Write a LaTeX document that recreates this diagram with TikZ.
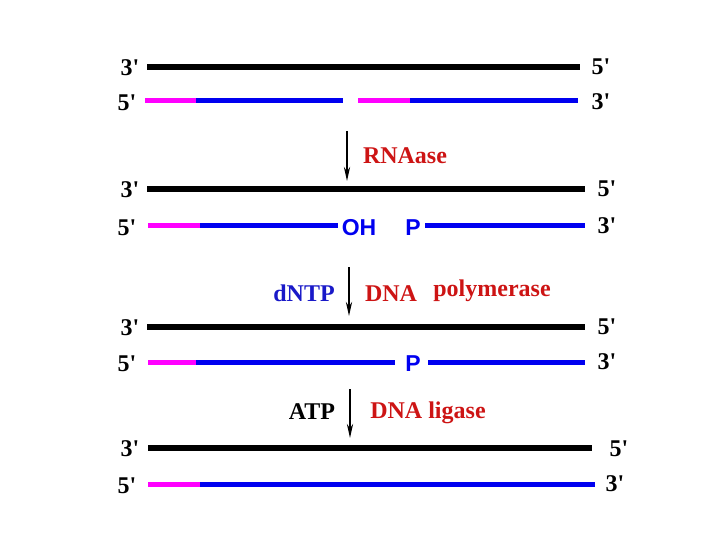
\documentclass[tikz,border=0pt]{standalone}
\usepackage{fontspec}
\setmainfont{Liberation Serif}
\newfontfamily\groupfont{Liberation Sans}
\usetikzlibrary{arrows.meta, positioning}

\definecolor{enzred}{RGB}{205,20,20}
\definecolor{strandblue}{RGB}{0,0,240}
\definecolor{primermag}{RGB}{255,0,255}
\definecolor{ntpblue}{RGB}{25,25,200}

\newcommand{\pr}{\textquotesingle}

\begin{document}
\begin{tikzpicture}[
    x=1pt, y=-1pt,
    tmpl/.style={line width=6pt, black},
    primer/.style={line width=5pt, primermag},
    newdna/.style={line width=5pt, strandblue},
    endlbl/.style={inner sep=0pt, font=\bfseries\fontsize{24}{24}\selectfont},
    enzyme/.style={inner sep=0pt, text=enzred, font=\bfseries\fontsize{24}{24}\selectfont},
    group/.style={inner sep=0pt, text=strandblue, font=\groupfont\bfseries\fontsize{23}{23}\selectfont},
    arrow/.style={-{Stealth[length=5mm, width=2.2mm]}, line width=1.5pt}
]
\useasboundingbox (0,0) rectangle (720,540);

% step 1: template with two primed fragments
\node[endlbl] (a3) at (130,68) {3\pr};
\node[endlbl] (a5) at (601,67) {5\pr};
\node[endlbl] (b5) at (127,103) {5\pr};
\node[endlbl] (b3) at (601,102) {3\pr};
\draw[tmpl] (147,67) -- (580,67);
\draw[primer] (145,101) -- (196,101);
\draw[newdna] (196,101) -- (343,101);
\draw[primer] (358,101) -- (410,101);
\draw[newdna] (410,101) -- (578,101);

% RNAase
\coordinate (s1) at (347,131);
\coordinate (e1) at (347,181);
\draw[arrow] (s1) -- (e1);
\node[enzyme] (rnaase) at (405,156) {RNAase};

% step 2: primers removed
\node[endlbl] (c3) at (130,190) {3\pr};
\node[endlbl] (c5) at (607,189) {5\pr};
\node[endlbl] (d5) at (127,228) {5\pr};
\node[endlbl] (d3) at (607,226) {3\pr};
\draw[tmpl] (147,189) -- (585,189);
\draw[primer] (148,226) -- (200,226);
\draw[newdna] (200,226) -- (338,226);
\node[group] (oh) at (359,228) {OH};
\node[group] (p1) at (413,228) {P};
\draw[newdna] (425,226) -- (585,226);

% DNA polymerase
\coordinate (s2) at (349,267);
\coordinate (e2) at (349,316);
\draw[arrow] (s2) -- (e2);
\node[inner sep=0pt, text=ntpblue, font=\bfseries\fontsize{24}{24}\selectfont] (dntp) at (304,293) {dNTP};
\node[enzyme] (dnapol) at (391,294) {DNA};
\node[enzyme] (pol) at (492,291) {polymerase};

% step 3: gap filled
\node[endlbl] (e3) at (130,328) {3\pr};
\node[endlbl] (e5) at (607,327) {5\pr};
\node[endlbl] (f5) at (127,364) {5\pr};
\node[endlbl] (f3) at (607,362) {3\pr};
\draw[tmpl] (147,327) -- (585,327);
\draw[primer] (148,362) -- (196,362);
\draw[newdna] (196,362) -- (395,362);
\node[group] (p2) at (413,364) {P};
\draw[newdna] (428,362) -- (585,362);

% DNA ligase
\coordinate (s3) at (350,389);
\coordinate (e3a) at (350,438);
\draw[arrow] (s3) -- (e3a);
\node[endlbl] (atp) at (312,412) {ATP};
\node[enzyme] (lig) at (428,413) {DNA ligase};

% step 4: sealed strand
\node[endlbl] (g3) at (130,449) {3\pr};
\node[endlbl] (g5) at (619,449) {5\pr};
\node[endlbl] (h5) at (127,486) {5\pr};
\node[endlbl] (h3) at (615,484) {3\pr};
\draw[tmpl] (148,448) -- (592,448);
\draw[primer] (148,484) -- (200,484);
\draw[newdna] (200,484) -- (595,484);

\end{tikzpicture}
\end{document}
